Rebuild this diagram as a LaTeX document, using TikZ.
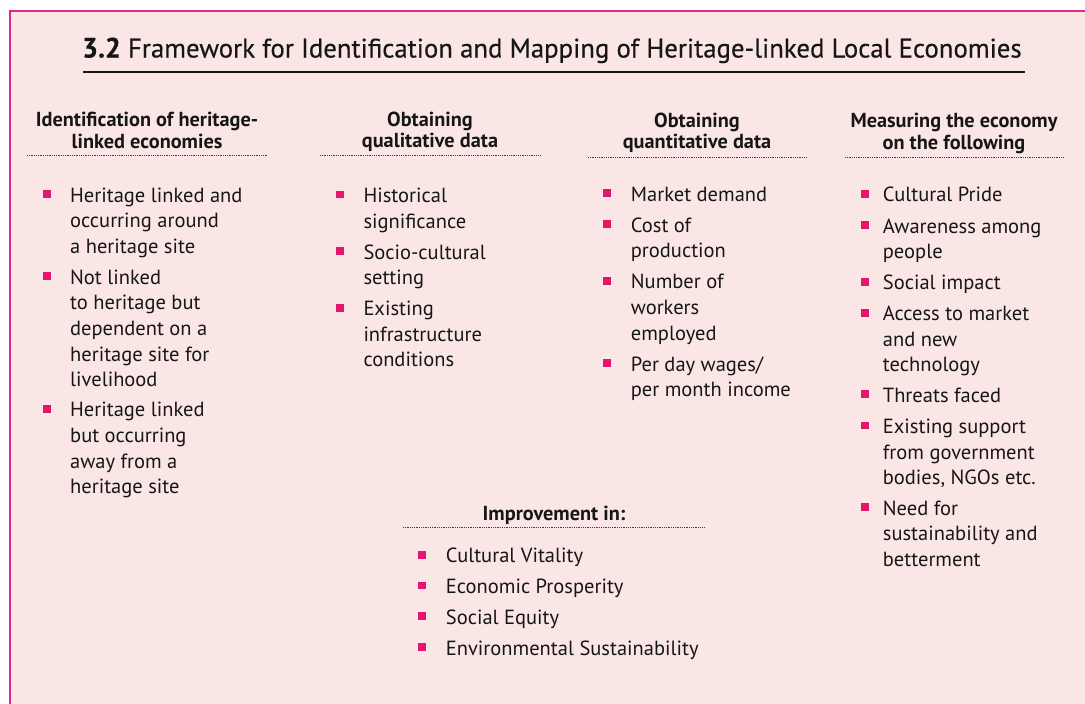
\documentclass[tikz,border=0pt]{standalone}
\usepackage{fontspec}
\setmainfont{PT Sans}
\newfontfamily\titlefont[FakeBold=0.35]{PT Sans}
\usetikzlibrary{calc}
\definecolor{bg}{HTML}{FBE6E6}
\definecolor{frame}{HTML}{E5258A}
\definecolor{bul}{HTML}{E6166E}
\definecolor{ink}{HTML}{161616}
% name, text x, first baseline, bullet offset, text
\newcommand\bitem[5]{%
  \node[itm] (#1) at (#2,#3-16) {\rule{0pt}{16pt}#5};
  \fill[bul] ($(#1.north west)+(#4,4.3)$) rectangle ++(7.8,7.8);
}
\begin{document}
\begin{tikzpicture}[x=1pt,y=-1pt,
  itm/.style={anchor=north west, inner sep=0pt, align=left, text=ink,
    font=\fontsize{20.5}{25.6}\selectfont},
  hdr/.style={anchor=north, inner sep=0pt, align=center, text=ink,
    font=\bfseries\fontsize{20.3}{21.5}\selectfont},
  rule/.style={line width=0.8pt, black!75, dash pattern=on 0.9pt off 0.9pt},
]
\useasboundingbox (0,0) rectangle (1085,704);
\fill[bg] (10,11) rectangle (1085,704);
\draw[frame, line width=1.4pt] (10,704) -- (10,11) -- (1085,11);

% title
\node[anchor=base west, inner sep=0pt, text=ink, font=\titlefont\fontsize{26.8}{30}\selectfont] (title) at (82,57.5)
  {{\bfseries\fontsize{28}{30}\selectfont 3.2} Framework for Identification and Mapping of Heritage-linked Local Economies};
\draw[ink, line width=2.6pt] (83,72) -- (1025,72);

% headers (strut 15pt above first baseline)
\newcommand\hs{\rule{0pt}{15pt}}
\node[hdr] (h1) at (147,126.7-15) {\hs Identification of heritage-\\linked economies};
\draw[rule] (27,155) -- (268,155);
\node[hdr] (h2) at (430,126-15) {\hs Obtaining\\qualitative data};
\draw[rule] (320,155) -- (540,155);
\node[hdr] (h3) at (697,127-15) {\hs Obtaining\\quantitative data};
\draw[rule] (588,157.3) -- (807,157.3);
\node[hdr] (h4) at (954,127.3-15) {\hs Measuring the economy\\on the following};
\draw[rule] (845,157.3) -- (1064,157.3);
\node[hdr] (h5) at (554,520.7-15) {\hs Improvement in:};
\draw[rule] (403,527.8) -- (705,527.8);

% column 1
\bitem{a1}{70}{202}{-27.3}{Heritage linked and\\occurring around\\a heritage site}
\bitem{a2}{70}{284}{-27.3}{Not linked\\to heritage but\\dependent on a\\heritage site for\\livelihood}
\bitem{a3}{70}{416.7}{-27.3}{Heritage linked\\but occurring\\away from a\\heritage site}

% column 2
\bitem{b1}{363.3}{202.3}{-27.3}{Historical\\significance}
\bitem{b2}{363.3}{259}{-27.3}{Socio-cultural\\setting}
\bitem{b3}{363.3}{315.5}{-27.3}{Existing\\infrastructure\\conditions}

% column 3
\bitem{c1}{630.7}{201}{-27.4}{Market demand}
\bitem{c2}{630.7}{232}{-27.4}{Cost of\\production}
\bitem{c3}{630.7}{288.7}{-27.4}{Number of\\workers\\employed}
\bitem{c4}{630.7}{370.8}{-27.4}{Per day wages/\\per month income}

% column 4
\bitem{d1}{882.7}{201.5}{-22}{Cultural Pride}
\bitem{d2}{882.7}{233}{-22}{Awareness among\\people}
\bitem{d3}{882.7}{289.5}{-22}{Social impact}
\bitem{d4}{882.7}{320.5}{-22}{Access to market\\and new\\technology}
\bitem{d5}{882.7}{401.8}{-22}{Threats faced}
\bitem{d6}{882.7}{433.3}{-22}{Existing support\\from government\\bodies, NGOs etc.}
\bitem{d7}{882.7}{515}{-22}{Need for\\sustainability and\\betterment}

% bottom
\bitem{e1}{445.7}{562.5}{-27.4}{Cultural Vitality}
\bitem{e2}{445.7}{593.3}{-27.4}{Economic Prosperity}
\bitem{e3}{445.7}{624}{-27.4}{Social Equity}
\bitem{e4}{445.7}{655}{-27.4}{Environmental Sustainability}
\end{tikzpicture}
\end{document}
